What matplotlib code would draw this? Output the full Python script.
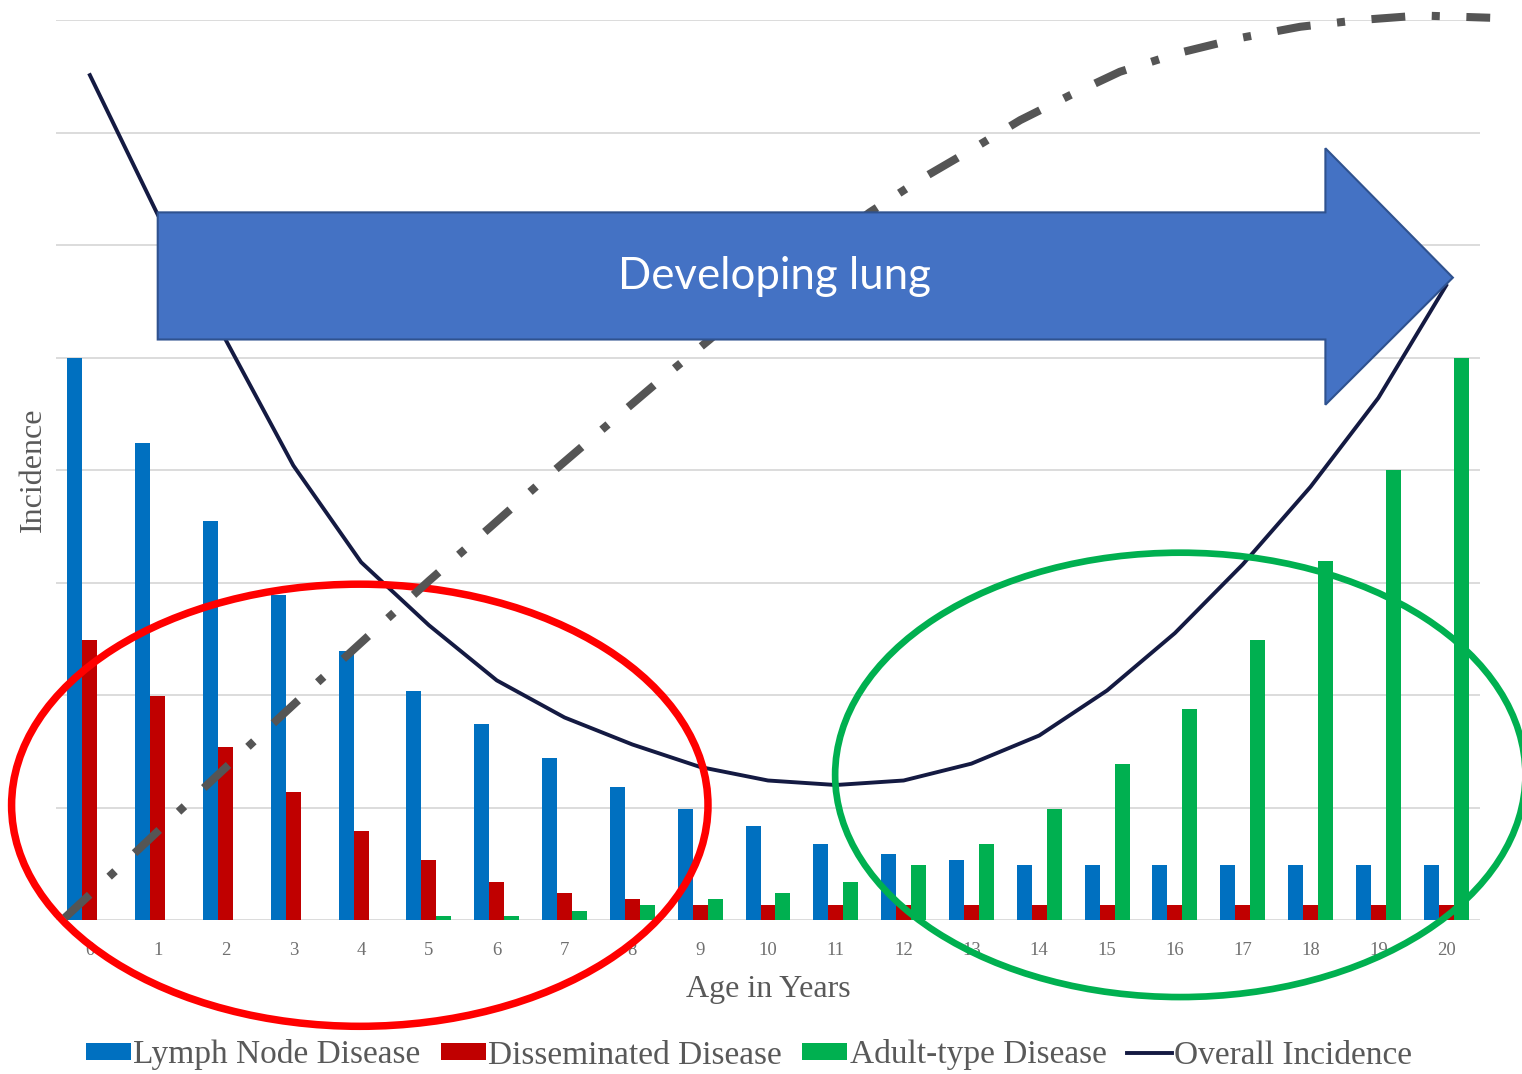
import matplotlib
matplotlib.use("Agg")
import matplotlib.pyplot as plt
from matplotlib.patches import Ellipse, Polygon, Patch
from matplotlib.lines import Line2D
import numpy as np

# ---- data -------------------------------------------------------------
ages = list(range(21))
lymph_node = [5.00, 4.24, 3.55, 2.89, 2.39, 2.04, 1.74, 1.44, 1.18, 0.99, 0.84,
              0.68, 0.59, 0.53, 0.49, 0.49, 0.49, 0.49, 0.49, 0.49, 0.49]
disseminated = [2.49, 1.99, 1.54, 1.14, 0.79, 0.53, 0.34, 0.24, 0.19, 0.13, 0.13,
                0.13, 0.13, 0.13, 0.13, 0.13, 0.13, 0.13, 0.13, 0.13, 0.13]
adult_type = [0.0, 0.0, 0.0, 0.0, 0.0, 0.04, 0.04, 0.08, 0.13, 0.19, 0.24,
              0.34, 0.49, 0.68, 0.99, 1.39, 1.88, 2.49, 3.19, 4.00, 5.00]
overall = [7.51, 6.27, 5.16, 4.04, 3.18, 2.62, 2.13, 1.80, 1.56, 1.36, 1.24,
           1.20, 1.24, 1.39, 1.64, 2.04, 2.55, 3.16, 3.85, 4.64, 5.64]

# lung-development trend sketched across the age range (age, incidence units)
lung_curve_x = [-0.37, 0.74, 1.62, 2.51, 3.39, 4.28, 5.01, 5.90, 6.78, 7.67, 8.41,
                9.14, 9.88, 10.77, 11.50, 12.24, 12.98, 13.72, 14.45, 15.19, 16.08,
                16.96, 17.85, 18.73, 19.62, 20.65]
lung_curve_y = [0.02, 0.64, 1.14, 1.64, 2.13, 2.62, 3.02, 3.49, 3.96, 4.42, 4.80,
                5.16, 5.55, 5.96, 6.29, 6.58, 6.84, 7.11, 7.33, 7.54, 7.71,
                7.84, 7.94, 8.00, 8.04, 8.02]

legend_labels = ["Lymph Node Disease", "Disseminated Disease",
                 "Adult-type Disease", "Overall Incidence"]
arrow_text = "Developing lung"

# ---- styling ----------------------------------------------------------
BLUE = "#0070C0"
RED = "#C00000"
GREEN = "#00B050"
NAVY = "#141a42"
GRID = "#d9d9d9"
TEXT = "#595959"
SERIF = ["Liberation Serif", "DejaVu Serif"]

fig = plt.figure(figsize=(15.22, 10.74), dpi=100)
ax = fig.add_axes([56 / 1522, 1 - 920 / 1074, (1480 - 56) / 1522, 900 / 1074])
ax.set_xlim(-0.5, 20.5)
ax.set_ylim(0, 8)

for s in ax.spines.values():
    s.set_visible(False)
for gy in range(0, 9):
    ax.axhline(gy, color=GRID, lw=1.3, zorder=0)

x = np.arange(len(ages))
w = 0.221
ax.bar(x - w, lymph_node, width=w, color=BLUE, zorder=2)
ax.bar(x, disseminated, width=w, color=RED, zorder=2)
ax.bar(x + w, adult_type, width=w, color=GREEN, zorder=2)

ax.plot(x, overall, color=NAVY, lw=2.8, zorder=3, solid_joinstyle="round")

ax.set_yticks([])
ax.set_xticks(x)
ax.set_xticklabels([str(a) for a in ages], fontsize=13.5, color="#707070",
                   family=SERIF)
ax.tick_params(axis="x", length=0, pad=16)
ax.set_xlabel("Age in Years", fontsize=23, color=TEXT, family=SERIF, labelpad=11)
ax.set_ylabel("Incidence", fontsize=23, color=TEXT, family=SERIF, labelpad=6)

# highlight ellipses
ax.add_patch(Ellipse((3.98, 1.02), 10.27, 3.93, fill=False, edgecolor="#ff0000",
                     lw=5.4, zorder=4, clip_on=False))
ax.add_patch(Ellipse((16.08, 1.29), 10.18, 3.95, fill=False, edgecolor=GREEN,
                     lw=4.8, zorder=4, clip_on=False))

# dash-dot trend line
ax.plot(lung_curve_x, lung_curve_y, color="#555555", lw=5.8, zorder=5,
        linestyle=(0, (4.2, 3.3, 1.0, 3.3)), dash_capstyle="butt",
        clip_on=False)

# block arrow
arrow_pts = [(1.00, 5.16), (18.22, 5.16), (18.22, 4.58), (20.10, 5.71),
             (18.22, 6.86), (18.22, 6.29), (1.00, 6.29)]
ax.add_patch(Polygon(arrow_pts, closed=True, facecolor="#4472C4",
                     edgecolor="#2F528F", lw=1.5, zorder=6, clip_on=False))
ax.text(10.1, 5.72, arrow_text, color="white", fontsize=31.5,
        family=["Lato", "DejaVu Sans"], ha="center", va="center", zorder=7)

# legend
handles = [Patch(facecolor=BLUE), Patch(facecolor=RED), Patch(facecolor=GREEN),
           Line2D([0], [0], color=NAVY, lw=2.8)]
fig.legend(handles, legend_labels, loc="center",
           bbox_to_anchor=(749 / 1522, 1 - 1055 / 1074), ncol=4, frameon=False,
           prop={"family": SERIF, "size": 24}, labelcolor=TEXT,
           handlelength=1.35, handleheight=0.42, handletextpad=0.08,
           columnspacing=0.6, borderpad=0, borderaxespad=0)

fig.savefig("out.png", dpi=100, facecolor="white")
